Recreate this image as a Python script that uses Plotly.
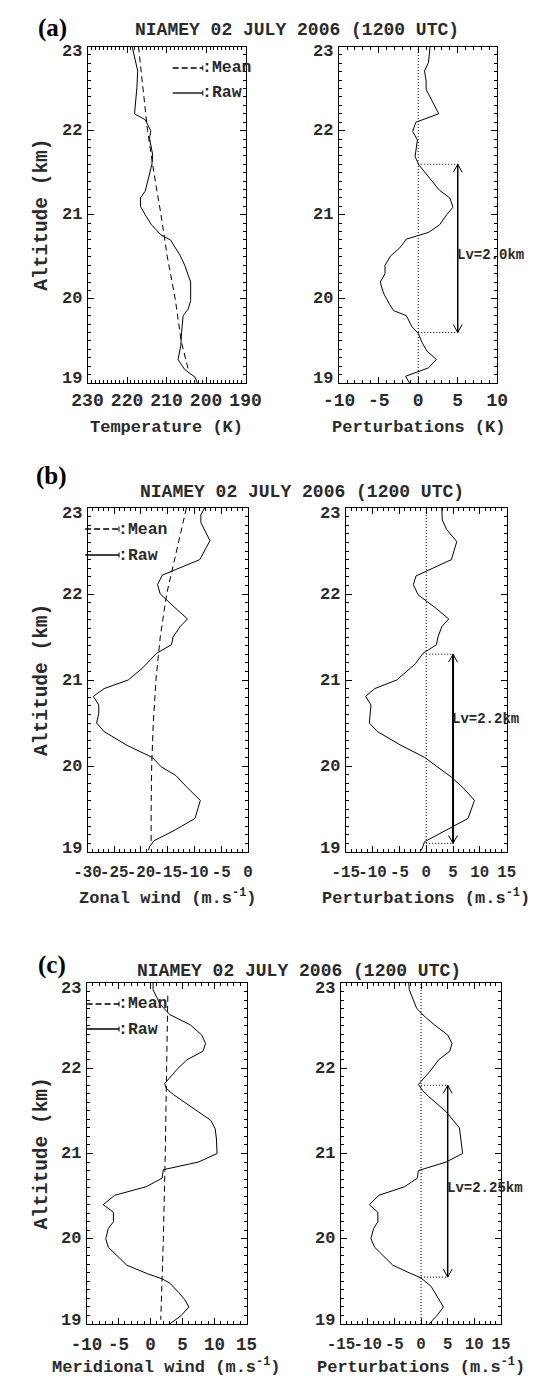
import plotly.graph_objects as go

W, H = 541, 1376

# ---------------- DATA ----------------
# (a) Temperature
alt_t_raw = [23.0, 22.87, 22.71, 22.51, 22.2, 22.13, 22.0, 21.91, 21.71, 21.6, 21.4, 21.28, 21.2, 21.1,
             21.0, 20.88, 20.76, 20.7, 20.52, 20.4, 20.2, 19.98, 19.88, 19.8, 19.6, 19.44, 19.28, 19.16,
             19.07, 19.0]
t_raw = [218.7, 218.0, 217.3, 217.5, 218.1, 215.4, 214.0, 214.3, 213.5, 213.7, 214.8, 215.4, 216.6, 216.6,
         215.4, 213.8, 211.4, 209.0, 206.6, 205.4, 203.9, 203.9, 204.5, 205.8, 206.2, 206.4, 207.1, 205.4,
         202.8, 202.2]
alt_t_mean = [23.0, 22.5, 22.0, 21.5, 21.0, 20.5, 20.0, 19.5, 19.14]
t_mean = [217.1, 215.9, 214.8, 213.2, 211.4, 209.8, 207.8, 206.3, 204.4]
alt_t_pert = [23.0, 22.81, 22.71, 22.59, 22.49, 22.2, 22.1, 21.99, 21.89, 21.69, 21.59, 21.4, 21.29, 21.2,
              21.09, 21.0, 20.88, 20.79, 20.71, 20.6, 20.51, 20.4, 20.3, 20.2, 20.07, 19.93, 19.86, 19.8,
              19.67, 19.59, 19.48, 19.38, 19.28, 19.18, 19.08, 19.0]
t_pert = [1.5, 1.3, 0.8, 1.0, 1.0, 2.6, -0.3, -0.7, -0.1, -0.4, 0.1, 1.7, 2.7, 4.0,
          4.4, 3.6, 2.7, 1.3, -1.5, -2.4, -3.5, -4.2, -4.2, -4.8, -4.4, -3.6, -3.1, -1.5,
          -0.8, 0.0, 0.5, 1.1, 2.3, 1.3, -1.6, -1.1]

# (b) Zonal wind
alt_u_raw = [23.0, 22.92, 22.83, 22.73, 22.62, 22.4, 22.22, 22.11, 22.0, 21.85, 21.71, 21.62, 21.5, 21.41,
             21.31, 21.14, 21.0, 20.9, 20.81, 20.71, 20.61, 20.5, 20.4, 20.24, 20.1, 19.99, 19.89, 19.74,
             19.6, 19.39, 19.25, 19.13, 19.06, 19.02]
u_raw = [-8.1, -8.8, -8.8, -8.0, -7.1, -9.0, -16.0, -16.9, -16.4, -13.8, -11.3, -12.7, -14.0, -14.3,
         -17.1, -19.7, -22.4, -26.9, -28.9, -27.9, -27.9, -28.3, -26.9, -22.6, -17.9, -16.2, -13.5, -11.2,
         -8.9, -9.9, -13.8, -17.6, -18.4, -18.6]
alt_u_mean = [23.0, 22.5, 22.0, 21.5, 21.0, 20.5, 20.0, 19.5, 19.1]
u_mean = [-11.5, -13.3, -15.2, -16.4, -17.2, -17.7, -18.0, -18.1, -18.1]
alt_u_pert = [23.0, 22.86, 22.75, 22.61, 22.4, 22.28, 22.21, 22.11, 21.99, 21.85, 21.71, 21.62, 21.5, 21.41,
              21.31, 21.19, 21.0, 20.9, 20.81, 20.71, 20.61, 20.5, 20.4, 20.24, 20.1, 19.99, 19.87, 19.74,
              19.6, 19.39, 19.25, 19.12, 19.02]
u_pert = [2.9, 3.0, 3.8, 5.7, 4.7, 0.6, -1.9, -2.4, -1.5, 1.5, 4.2, 2.9, 2.2, 1.9,
          -0.6, -2.0, -5.5, -9.6, -11.3, -10.3, -10.5, -10.6, -9.1, -4.7, -0.3, 2.0, 4.7, 7.0,
          9.0, 7.8, 3.5, -0.3, -0.9]

# (c) Meridional wind
alt_v_raw = [23.0, 22.92, 22.75, 22.63, 22.51, 22.39, 22.29, 22.2, 22.1, 22.0, 21.82, 21.76, 21.69, 21.51,
             21.39, 21.29, 21.17, 21.0, 20.9, 20.81, 20.71, 20.61, 20.51, 20.4, 20.31, 20.2, 20.12, 20.0,
             19.9, 19.69, 19.59, 19.53, 19.48, 19.37, 19.29, 19.2, 19.1, 19.0]
v_raw = [0.4, 0.4, 1.5, 3.0, 6.2, 8.0, 8.6, 8.2, 5.7, 4.3, 2.2, 2.5, 3.6, 7.1,
         9.4, 10.1, 10.3, 10.4, 7.5, 2.0, 1.8, -0.7, -5.6, -7.4, -5.8, -5.8, -6.6, -7.0,
         -6.6, -3.7, -0.5, 1.8, 3.0, 4.4, 5.3, 6.0, 4.8, 3.0]
alt_v_mean = [22.85, 22.0, 21.0, 20.0, 19.05]
v_mean = [2.7, 2.55, 2.3, 2.0, 1.6]
alt_v_pert = [23.0, 22.92, 22.7, 22.6, 22.51, 22.39, 22.29, 22.2, 22.1, 21.98, 21.81, 21.74, 21.67, 21.49,
              21.3, 21.0, 20.9, 20.8, 20.71, 20.61, 20.51, 20.4, 20.31, 20.2, 20.12, 20.0, 19.9, 19.69,
              19.6, 19.54, 19.44, 19.2, 19.1, 19.0]
v_pert = [-2.3, -2.2, -0.8, 0.8, 2.5, 5.0, 5.8, 5.4, 3.3, 1.9, -0.5, 0.3, 1.4, 4.7,
          7.2, 7.8, 4.7, -0.5, -0.7, -3.1, -7.9, -9.7, -8.1, -8.1, -8.9, -9.4, -8.7, -5.3,
          -2.2, 0.0, 1.9, 4.2, 3.0, 1.5]

# Vertical wavelength markers
lv_top = [21.6, 21.3, 21.8]
lv_bottom = [19.6, 19.1, 19.55]
lv_x = [5.0, 5.0, 5.0]
lv_label = ["Lv=2.0km", "Lv=2.2km", "Lv=2.25km"]
lv_label_alt = [20.52, 20.55, 20.59]

# Axis ticks
alt_ticks = [19, 20, 21, 22, 23]
t_ticks = [230, 220, 210, 200, 190]
tp_ticks = [-10, -5, 0, 5, 10]
u_ticks = [-30, -25, -20, -15, -10, -5, 0]
w_ticks = [-15, -10, -5, 0, 5, 10, 15]
v_ticks = [-10, -5, 0, 5, 10, 15]

title_text = "NIAMEY 02 JULY 2006 (1200 UTC)"
panel_labels = ["(a)", "(b)", "(c)"]
xtitles_left = ["Temperature (K)", "Zonal wind (m.s<sup>-1</sup>)", "Meridional wind (m.s<sup>-1</sup>)"]
xtitles_right = ["Perturbations (K)", "Perturbations (m.s<sup>-1</sup>)", "Perturbations (m.s<sup>-1</sup>)"]

# ---------------- LAYOUT (pixel boxes) ----------------
MONO = "Liberation Mono"
TXT = "#2a2a2a"

# (left, right, top, bottom) in pixels
boxes = [
    (67.5, 235.5, 38.5, 375.0), (335.0, 503.0, 38.5, 375.0),
    (67.5, 238.0, 500.0, 844.0), (342.0, 513.0, 500.0, 844.0),
    (66.5, 236.5, 975.0, 1316.0), (337.0, 507.0, 975.0, 1316.0),
]
xranges = [[230, 190], [-10, 10], [-30, 0], [-15, 15], [-10, 15], [-15, 15]]
xticks = [t_ticks, tp_ticks, u_ticks, w_ticks, v_ticks, w_ticks]
xtick_size = [18, 18, 15.8, 15.8, 17.5, 15.8]
xtick_standoff = [0, 0, 5, 5, 4, 5]

fig = go.Figure()


def px2x(p):
    return p / W


def px2y(p):
    return 1 - p / H


for i, (l, r, t, b) in enumerate(boxes):
    n = "" if i == 0 else str(i + 1)
    tv = xticks[i]
    fig.layout["xaxis" + n] = dict(
        domain=[px2x(l), px2x(r)], range=xranges[i], anchor="y" + n,
        tickvals=tv, ticktext=[str(v) for v in tv], tickangle=0,
        ticklabelstandoff=xtick_standoff[i],
        ticks="inside", ticklen=6, tickwidth=1, tickcolor="black",
        mirror="allticks", showline=True, linecolor="black", linewidth=1,
        showgrid=False, zeroline=False, fixedrange=True,
        minor=dict(dtick=1, ticks="inside", ticklen=3, tickwidth=1, tickcolor="black", showgrid=False),
        tickfont=dict(family=MONO, size=xtick_size[i], color=TXT, weight="bold"),
    )
    fig.layout["yaxis" + n] = dict(
        domain=[px2y(b), px2y(t)], range=[19, 23], anchor="x" + n,
        tickvals=alt_ticks, showticklabels=False,
        ticks="inside", ticklen=6, tickwidth=1, tickcolor="black",
        mirror="allticks", showline=True, linecolor="black", linewidth=1,
        showgrid=False, zeroline=False, fixedrange=True,
        minor=dict(dtick=0.1, ticks="inside", ticklen=3, tickwidth=1, tickcolor="black", showgrid=False),
    )
    # altitude tick labels (end labels nudged inward as in the original figure)
    for v in alt_ticks:
        ys = -5 if v == alt_ticks[-1] else (4 if v == alt_ticks[0] else 0)
        fig.add_annotation(x=0, y=v, xref="x" + n + " domain", yref="y" + n, text=str(v),
                           showarrow=False, xanchor="right", yanchor="middle", xshift=-4, yshift=ys,
                           font=dict(family=MONO, size=17, color=TXT, weight="bold"))

line_solid = dict(color="black", width=1)
line_dash = dict(color="black", width=1, dash="6px,4px")

series_left = [(t_raw, alt_t_raw, t_mean, alt_t_mean), (u_raw, alt_u_raw, u_mean, alt_u_mean),
               (v_raw, alt_v_raw, v_mean, alt_v_mean)]
series_right = [(t_pert, alt_t_pert), (u_pert, alt_u_pert), (v_pert, alt_v_pert)]

for k in range(3):
    il, ir = 2 * k, 2 * k + 1
    nl = "" if il == 0 else str(il + 1)
    nr = str(ir + 1)
    raw, araw, mean, amean = series_left[k]
    fig.add_trace(go.Scatter(x=mean, y=amean, mode="lines", line=line_dash, xaxis="x" + nl, yaxis="y" + nl,
                             showlegend=False, hoverinfo="skip"))
    fig.add_trace(go.Scatter(x=raw, y=araw, mode="lines", line=line_solid, xaxis="x" + nl, yaxis="y" + nl,
                             showlegend=False, hoverinfo="skip"))
    pert, apert = series_right[k]
    fig.add_trace(go.Scatter(x=pert, y=apert, mode="lines", line=line_solid, xaxis="x" + nr, yaxis="y" + nr,
                             showlegend=False, hoverinfo="skip"))
    # zero dotted line
    fig.add_shape(type="line", xref="x" + nr, yref="y" + nr + " domain", x0=0, x1=0, y0=0, y1=1,
                  line=dict(color="black", width=1, dash="1px,2px"))
    # Lv dotted horizontals
    for yy in (lv_top[k], lv_bottom[k]):
        fig.add_shape(type="line", xref="x" + nr, yref="y" + nr, x0=0, x1=lv_x[k], y0=yy, y1=yy,
                      line=dict(color="black", width=1, dash="1px,2px"))
    # arrow shaft and open heads
    l, r, t, b = boxes[ir]
    xr = xranges[ir]
    hw = 4.7 * abs(xr[1] - xr[0]) / (r - l)
    hh = 8.0 * 4.0 / (b - t)
    aw = 2.0 if k == 1 else 1.5
    fig.add_trace(go.Scatter(x=[lv_x[k], lv_x[k]], y=[lv_bottom[k], lv_top[k]], mode="lines",
                             line=dict(color="black", width=aw), xaxis="x" + nr, yaxis="y" + nr,
                             showlegend=False, hoverinfo="skip"))
    for tip, sgn in ((lv_top[k], -1), (lv_bottom[k], 1)):
        fig.add_trace(go.Scatter(x=[lv_x[k] - hw, lv_x[k], lv_x[k] + hw],
                                 y=[tip + sgn * hh, tip, tip + sgn * hh], mode="lines",
                                 line=dict(color="black", width=1), xaxis="x" + nr, yaxis="y" + nr,
                                 showlegend=False, hoverinfo="skip"))
    fig.add_annotation(x=lv_x[k], y=lv_label_alt[k], xref="x" + nr, yref="y" + nr, text=lv_label[k],
                       showarrow=False, xanchor="left", yanchor="middle", xshift=-3,
                       font=dict(family=MONO, size=14, color=TXT, weight="bold"))

# ---- titles and labels (pixel positions) ----
title_y = [22, 484, 963]
title_x = [290, 296, 292]
plabel_y = [20, 468, 957]
plabel_x = [30, 29, 30]
xt_y = [419, 889, 1358]
for k in range(3):
    fig.add_annotation(x=px2x(title_x[k]), y=px2y(title_y[k]), xref="paper", yref="paper", text=title_text,
                       showarrow=False, xanchor="center", yanchor="middle",
                       font=dict(family=MONO, size=18, color=TXT, weight="bold"))
    fig.add_annotation(x=px2x(plabel_x[k]), y=px2y(plabel_y[k]), xref="paper", yref="paper",
                       text=panel_labels[k], showarrow=False, xanchor="center", yanchor="middle",
                       font=dict(family="Liberation Serif", size=25, color="black", weight="bold"))
    l, r, t, b = boxes[2 * k]
    fig.add_annotation(x=px2x(19), y=px2y((t + b) / 2), xref="paper", yref="paper", text="Altitude (km)",
                       showarrow=False, textangle=-90, xanchor="center", yanchor="middle",
                       font=dict(family=MONO, size=19.5, color=TXT, weight="bold"))
    fig.add_annotation(x=px2x((l + r) / 2), y=px2y(xt_y[k]), xref="paper", yref="paper",
                       text=xtitles_left[k], showarrow=False, xanchor="center", yanchor="middle",
                       font=dict(family=MONO, size=17, color=TXT, weight="bold"))
    l2, r2, t2, b2 = boxes[2 * k + 1]
    fig.add_annotation(x=px2x((l2 + r2) / 2), y=px2y(xt_y[k]), xref="paper", yref="paper",
                       text=xtitles_right[k], showarrow=False, xanchor="center", yanchor="middle",
                       font=dict(family=MONO, size=17, color=TXT, weight="bold"))

# ---- legends inside left panels (pixel positions) ----
leg = [  # (x0, x1, y_mean, y_raw)
    (158, 190, 60, 85),
    (65, 101, 521, 547),
    (66.5, 101, 996, 1021),
]
for k in range(3):
    x0, x1, ym, yr = leg[k]
    fig.add_shape(type="line", xref="paper", yref="paper", x0=px2x(x0), x1=px2x(x1), y0=px2y(ym), y1=px2y(ym),
                  line=dict(color="black", width=1.3, dash="6px,3px"))
    fig.add_shape(type="line", xref="paper", yref="paper", x0=px2x(x0), x1=px2x(x1), y0=px2y(yr), y1=px2y(yr),
                  line=dict(color="black", width=1.3))
    for yy in (ym, yr):
        fig.add_shape(type="line", xref="paper", yref="paper", x0=px2x(x1), x1=px2x(x1),
                      y0=px2y(yy - 2.5), y1=px2y(yy + 2.5), line=dict(color="black", width=1))
    fig.add_annotation(x=px2x(x1), y=px2y(ym), xref="paper", yref="paper", text=":Mean", showarrow=False,
                       xanchor="left", yanchor="middle", xshift=-3,
                       font=dict(family=MONO, size=16.5, color=TXT, weight="bold"))
    fig.add_annotation(x=px2x(x1), y=px2y(yr), xref="paper", yref="paper", text=":Raw", showarrow=False,
                       xanchor="left", yanchor="middle", xshift=-3,
                       font=dict(family=MONO, size=16.5, color=TXT, weight="bold"))

fig.update_layout(width=W, height=H, margin=dict(l=0, r=0, t=0, b=0),
                  paper_bgcolor="white", plot_bgcolor="white", showlegend=False)

fig.write_html("out.html")
